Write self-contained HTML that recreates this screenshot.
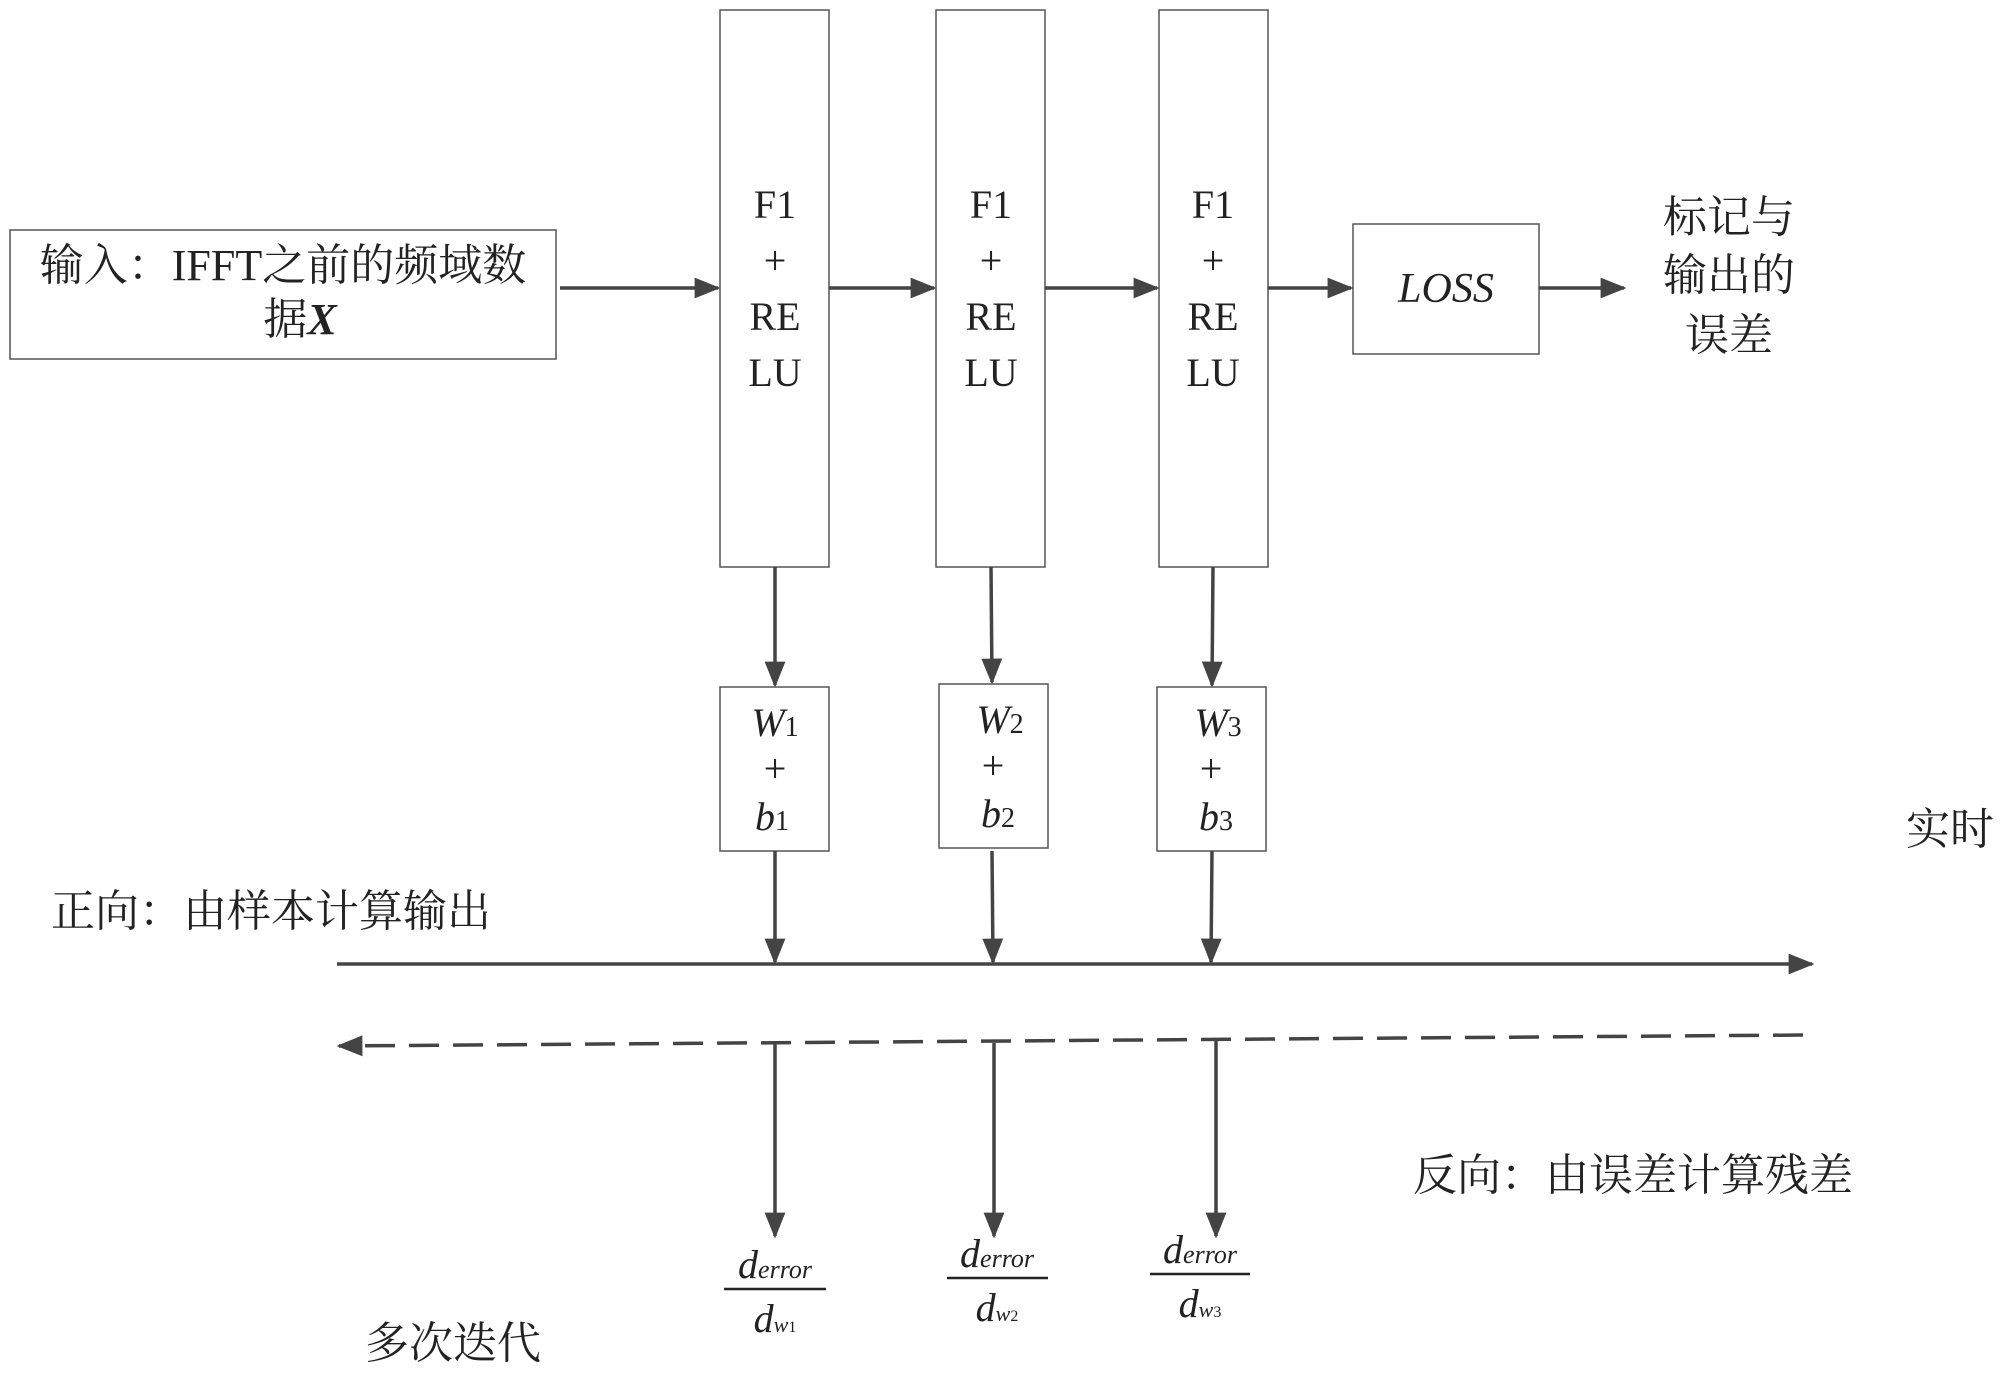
<!DOCTYPE html>
<html><head><meta charset="utf-8"><style>
html,body{margin:0;padding:0;background:#fff}
svg text{font-family:"Liberation Serif","Noto Serif CJK SC","Noto Sans CJK SC",serif;fill:#222}
</style></head><body>
<svg width="2000" height="1376" viewBox="0 0 2000 1376" xmlns="http://www.w3.org/2000/svg">
<defs>
<marker id="a" markerWidth="10" markerHeight="10" refX="9" refY="5" orient="auto" markerUnits="userSpaceOnUse" viewBox="0 0 10 10">
<path d="M0,0 L10,5 L0,10 z" fill="#444"/></marker>
<marker id="b" viewBox="0 0 10 10" refX="9" refY="5" markerWidth="26" markerHeight="26" orient="auto" markerUnits="userSpaceOnUse"><path d="M0,1 L10,5 L0,9 z" fill="#444"/></marker>
</defs>
<g fill="none" stroke="#555" stroke-width="1.5">
<rect x="10" y="230" width="546" height="129"/>
<rect x="720" y="10" width="109" height="557"/>
<rect x="936" y="10" width="109" height="557"/>
<rect x="1159" y="10" width="109" height="557"/>
<rect x="1353" y="224" width="186" height="130"/>
<rect x="720" y="687" width="109" height="164"/>
<rect x="939" y="684" width="109" height="164"/>
<rect x="1157" y="687" width="109" height="164"/>
</g>
<g stroke="#444" stroke-width="3.5" fill="none" marker-end="url(#b)">
<line x1="560" y1="288" x2="718" y2="288"/>
<line x1="829" y1="288" x2="934" y2="288"/>
<line x1="1045" y1="288" x2="1157" y2="288"/>
<line x1="1268" y1="288" x2="1351" y2="288"/>
<line x1="1539" y1="288" x2="1624" y2="288"/>
<line x1="775" y1="567" x2="775" y2="685"/>
<line x1="991" y1="567" x2="992" y2="682"/>
<line x1="1213" y1="567" x2="1212" y2="685"/>
<line x1="775" y1="851" x2="775" y2="962"/>
<line x1="992" y1="851" x2="993" y2="962"/>
<line x1="1212" y1="851" x2="1211" y2="962"/>
<line x1="337" y1="964" x2="1812" y2="964"/>
<line x1="1803" y1="1035" x2="339" y2="1046" stroke-dasharray="30,14"/>
<line x1="775" y1="1044" x2="775" y2="1236"/>
<line x1="994" y1="1043" x2="994" y2="1236"/>
<line x1="1216" y1="1040" x2="1216" y2="1236"/>
</g>
<g font-size="44" text-anchor="middle">
<text x="283" y="280">输入：IFFT之前的频域数</text>
<text x="300" y="334">据<tspan font-weight="bold" font-style="italic">X</tspan></text>
<g font-size="40">
<text x="775" y="218">F1</text><text x="775" y="274">+</text><text x="775" y="330">RE</text><text x="775" y="386">LU</text>
<text x="991" y="218">F1</text><text x="991" y="274">+</text><text x="991" y="330">RE</text><text x="991" y="386">LU</text>
<text x="1213" y="218">F1</text><text x="1213" y="274">+</text><text x="1213" y="330">RE</text><text x="1213" y="386">LU</text>
</g>
<text x="1446" y="302" font-style="italic" font-size="42">LOSS</text>
<text x="1729" y="232">标记与</text><text x="1729" y="290">输出的</text><text x="1729" y="350">误差</text>
<g font-size="40">
<text x="775" y="736"><tspan font-style="italic">W</tspan><tspan font-size="28">1</tspan></text>
<text x="775" y="782">+</text>
<text x="772" y="830"><tspan font-style="italic">b</tspan><tspan font-size="28">1</tspan></text>
<text x="1000" y="733"><tspan font-style="italic">W</tspan><tspan font-size="28">2</tspan></text>
<text x="993" y="779">+</text>
<text x="998" y="827"><tspan font-style="italic">b</tspan><tspan font-size="28">2</tspan></text>
<text x="1218" y="736"><tspan font-style="italic">W</tspan><tspan font-size="28">3</tspan></text>
<text x="1211" y="782">+</text>
<text x="1216" y="830"><tspan font-style="italic">b</tspan><tspan font-size="28">3</tspan></text>
</g>
<g font-size="40">
<text x="775" y="1278"><tspan font-style="italic">d</tspan><tspan font-size="26" font-style="italic">error</tspan></text>
<text x="775" y="1332"><tspan font-style="italic">d</tspan><tspan font-size="22" font-style="italic">w</tspan><tspan font-size="16">1</tspan></text>
<text x="997" y="1267"><tspan font-style="italic">d</tspan><tspan font-size="26" font-style="italic">error</tspan></text>
<text x="997" y="1321"><tspan font-style="italic">d</tspan><tspan font-size="22" font-style="italic">w</tspan><tspan font-size="16">2</tspan></text>
<text x="1200" y="1263"><tspan font-style="italic">d</tspan><tspan font-size="26" font-style="italic">error</tspan></text>
<text x="1200" y="1317"><tspan font-style="italic">d</tspan><tspan font-size="22" font-style="italic">w</tspan><tspan font-size="16">3</tspan></text>
</g>
</g>
<g stroke="#222" stroke-width="2.5">
<line x1="724" y1="1289" x2="826" y2="1289"/>
<line x1="947" y1="1278" x2="1048" y2="1278"/>
<line x1="1150" y1="1274" x2="1250" y2="1274"/>
</g>
<g font-size="44">
<text x="51" y="926">正向：由样本计算输出</text>
<text x="1413" y="1190">反向：由误差计算残差</text>
<text x="1906" y="844">实时</text>
<text x="365" y="1358">多次迭代</text>
</g>
</svg>
</body></html>
